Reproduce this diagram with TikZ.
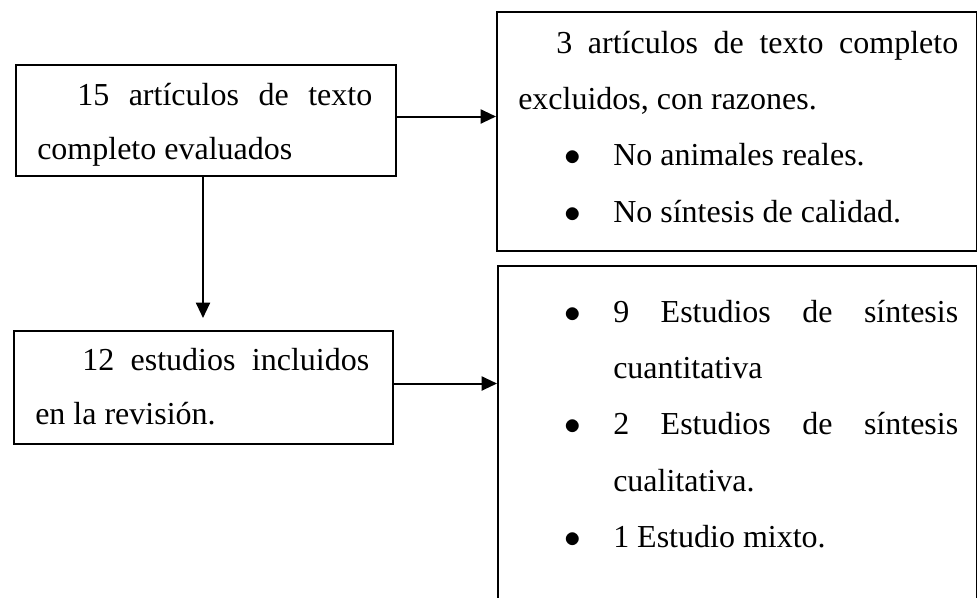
\documentclass[tikz,border=0pt]{standalone}
\usepackage{fontspec}
\setmainfont{Liberation Serif}
\usetikzlibrary{arrows.meta}
\hyphenpenalty=10000
\tolerance=9999
\newcommand{\blabel}{\noindent\hangindent=71.25pt\hangafter=1\hspace*{34.5pt}\makebox[36.75pt][l]{$\bullet$}}
\newcommand{\bitem}{\par\blabel}

\begin{document}
\begin{tikzpicture}[x=0.75pt,y=-0.75pt,
  box/.style={draw,line width=1.5pt,inner sep=0pt,anchor=north west},
  txt/.style={inner sep=0pt,anchor=base west,align=justify,
    font={\fontsize{24}{40.5}\selectfont}},
  wide/.style={font={\fontsize{24}{42.25}\selectfont}},
  arrow/.style={line width=1.5pt,-{Triangle[length=11.5pt,width=10.5pt]}}]
  \def\Xl{15};
  \def\Xr{496};
  \useasboundingbox (0,0) rectangle (977,597);
        \node[box,minimum width=285pt,minimum height=83.25pt] (a) at (\Xl,64) {};
        \node[box,minimum width=360pt,minimum height=179.25pt] (b) at (\Xr,11) {};
        \node[box,minimum width=284.25pt,minimum height=84.75pt] (c) at (\Xl-2,330) {};
        \node[box,minimum width=359.25pt,minimum height=266.25pt] (d) at (\Xr+1,265) {};

        \node[txt,text width=251.25pt] (atxt)
          at ([shift={(22,41)}]a.north west)
          {\hspace*{30pt}15 artículos de texto completo evaluados};
        \node[txt,wide,text width=330pt] (btxt)
          at ([shift={(22,42)}]b.north west)
          {\hspace*{28.5pt}3 artículos de texto completo excluidos, con razones.
           \bitem No animales reales.
           \bitem No síntesis de calidad.};
        \node[txt,text width=250.5pt] (ctxt)
          at ([shift={(22,40)}]c.north west)
          {\hspace*{35.25pt}12 estudios incluidos en la revisión.};
        \node[txt,wide,text width=330pt] (dtxt)
          at ([shift={(21,57)}]d.north west)
          {\blabel 9 Estudios de síntesis cuantitativa
           \bitem 2 Estudios de síntesis cualitativa.
           \bitem 1 Estudio mixto.};

	\draw[arrow] ([yshift=3pt]a.east) -- ([yshift=3pt]a.east -| b.west);
	\draw[arrow,shorten >=9pt] ([xshift=-2.25pt]a.south) -- ([xshift=-2.25pt]a.south |- c.north);
	\draw[arrow] ([yshift=3pt]c.east) -- ([yshift=3pt]c.east -| d.west);
\end{tikzpicture}
\end{document}
